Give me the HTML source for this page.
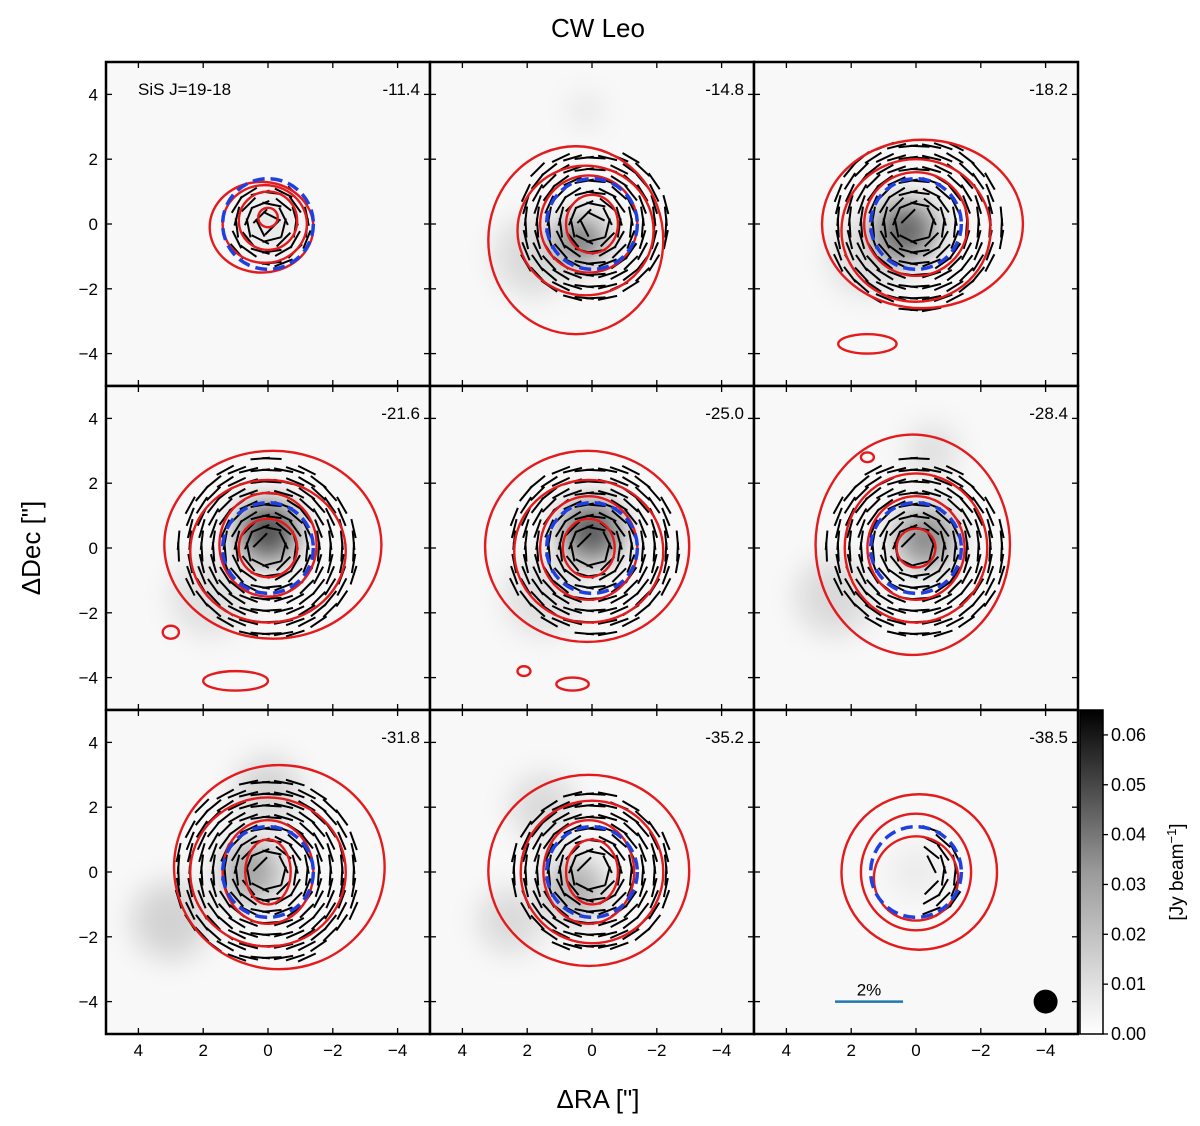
<!DOCTYPE html>
<html><head><meta charset="utf-8">
<style>
html,body{margin:0;padding:0;background:#fff;}
svg{display:block;font-family:"Liberation Sans","DejaVu Sans",sans-serif;}
</style></head>
<body>
<svg id="fig" width="1200" height="1126" viewBox="0 0 1200 1126" xmlns="http://www.w3.org/2000/svg">
<defs>
<filter id="blur" x="-50%" y="-50%" width="200%" height="200%"><feGaussianBlur stdDeviation="14"/></filter>
<linearGradient id="cbgrad" x1="0" y1="1" x2="0" y2="0">
<stop offset="0" stop-color="#ffffff"/><stop offset="0.5" stop-color="#9a9a9a"/><stop offset="1" stop-color="#000000"/></linearGradient>
</defs>
<text x="598" y="37" font-size="26" text-anchor="middle">CW Leo</text>
<text x="598" y="1108" font-size="26" text-anchor="middle">ΔRA ["]</text>
<text transform="translate(40,548) rotate(-90)" font-size="26" text-anchor="middle">ΔDec ["]</text>
<g id="panels"></g>
<g id="cbar"></g>
</svg>
<script>
const velocities = ["-11.4","-14.8","-18.2","-21.6","-25.0","-28.4","-31.8","-35.2","-38.5"];
const ticks = [4,2,0,-2,-4];
// contours: [cx, cy, rx, ry] in arcsec
const contours = [
 [[0.2,-0.1,1.6,1.4],[0.1,0,1.3,1.2],[0,0.1,0.9,0.9],[0,0.2,0.3,0.3]],
 [[0.5,-0.5,2.7,2.9],[0.2,-0.2,2.1,2.0],[0.1,0,1.5,1.5],[0,0,0.8,0.9]],
 [[-0.2,0,3.1,2.6],[0,-0.2,2.3,2.2],[0,0,1.6,1.6],[1.5,-3.7,0.9,0.3]],
 [[-0.15,0.1,3.35,2.9],[0,-0.1,2.4,2.2],[0,0.1,1.5,1.6],[0,0,0.9,0.9],[3,-2.6,0.25,0.2],[1,-4.1,1,0.3]],
 [[0.15,0.05,3.15,2.95],[0.1,-0.1,2.3,2.2],[0.1,0,1.5,1.6],[0.1,0,0.8,0.9],[2.1,-3.8,0.2,0.15],[0.6,-4.2,0.5,0.2]],
 [[0.1,0.1,3.0,3.4],[0,0,2.2,2.3],[0,0,1.5,1.6],[0,0,0.6,0.6],[1.5,2.8,0.2,0.15]],
 [[-0.35,0.15,3.25,3.15],[0,0,2.4,2.3],[0,0,1.4,1.6],[0,0,0.7,1.0]],
 [[0.1,0.05,3.1,2.95],[0,0,2.2,2.2],[0.1,0,1.4,1.6],[0,0,0.8,1.0]],
 [[-0.1,0,2.4,2.4],[0,0,1.7,1.8],[0,-0.2,1.3,1.3]]
];
// polarization vector annulus [rmin, rmax]
const vecRegion = [[0,1.3],[0.2,2.4],[0.3,2.7],[0.3,2.8],[0.3,2.7],[0.3,2.8],[0.3,2.9],[0.3,2.5],[0.5,1.5]];
// gray emission blobs [x, y, radius, darkness]
const blobs = [
 [[0,0,0.8,0.08]],
 [[0.3,-0.5,0.7,0.55],[1.8,-1,1.2,0.12],[0.2,3.5,0.5,0.08]],
 [[0.3,-0.2,0.9,0.6],[1.5,-1,1.2,0.1]],
 [[0,0.5,0.9,0.7],[1.8,-1.5,1.2,0.1]],
 [[0,0.5,0.9,0.65],[1.5,-1.5,1.2,0.1]],
 [[-0.3,0.3,0.9,0.45],[2.5,-1.5,1.2,0.12],[-0.5,3,0.8,0.1]],
 [[0.5,0,0.9,0.35],[3,-1.5,1.2,0.15],[0,2.5,1.0,0.15]],
 [[0.5,-0.5,0.9,0.3],[1.5,2,1.0,0.12],[2.5,-1.5,1.0,0.12]],
 [[0,0,0.8,0.05]]
];
const NS="http://www.w3.org/2000/svg";
const root=document.getElementById('panels');
const PW=324, X0=106, Y0=62, S=32.4;
function mk(tag,attrs,parent){const e=document.createElementNS(NS,tag);for(const k in attrs)e.setAttribute(k,attrs[k]);parent.appendChild(e);return e;}
for(let i=0;i<9;i++){
 const col=i%3,row=Math.floor(i/3);
 const px=X0+col*PW, py=Y0+row*PW;
 const cx=px+PW/2, cy=py+PW/2;
 const sx=v=>cx-v*S, sy=v=>cy-v*S;
 const g=mk('g',{},root);
 
 
 const clipId='clip'+i;
 const cp=mk('clipPath',{id:clipId},g);mk('rect',{x:px,y:py,width:PW,height:PW},cp);
 const inner=mk('g',{'clip-path':'url(#'+clipId+')'},g);
 mk('rect',{x:px,y:py,width:PW,height:PW,fill:'#f8f8f8'},inner);
 const bg=mk('g',{filter:'url(#blur)'},inner);
 blobs[i].forEach(b=>{const c=mk('circle',{cx:sx(b[0]),cy:sy(b[1]),r:b[2]*S,fill:'#000','fill-opacity':b[3]},bg);
  });
 const vr=vecRegion[i];const vg=mk('g',{stroke:'#000','stroke-width':2},inner);
 for(let yy=-3;yy<=3.01;yy+=0.36){for(let xx=-3;xx<=3.01;xx+=0.36){
  const r=Math.hypot(xx,yy); if(r<vr[0]||r>vr[1])continue;
  if(i===8&&xx>-0.2)continue;
  let ang=Math.atan2(yy,xx)+Math.PI/2; const L=0.3;
  const dx=Math.cos(ang)*L,dy=Math.sin(ang)*L;
  const l=mk('line',{x1:sx(xx-dx),y1:sy(yy-dy),x2:sx(xx+dx),y2:sy(yy+dy)},vg);
  
 }}
 contours[i].forEach(c=>{const e=mk('ellipse',{cx:sx(c[0]),cy:sy(c[1]),rx:c[2]*S,ry:c[3]*S,fill:'none',stroke:'#e41a1c','stroke-width':2.4},inner);
  });
 const dc=mk('circle',{cx:sx(0),cy:sy(0),r:1.4*S,fill:'none',stroke:'#1f3fe0','stroke-width':3.5,'stroke-dasharray':'12,6'},inner);
 
 const fr=mk('rect',{x:px,y:py,width:PW,height:PW,fill:'none',stroke:'#000','stroke-width':2.5},g);
 
 const tg=mk('g',{stroke:'#000','stroke-width':1.3},g);
 ticks.forEach(t=>{
  mk('line',{x1:sx(t),y1:py+PW,x2:sx(t),y2:py+PW-6},tg);mk('line',{x1:sx(t),y1:py,x2:sx(t),y2:py+6},tg);
  mk('line',{x1:px,y1:sy(t),x2:px+6,y2:sy(t)},tg);mk('line',{x1:px+PW,y1:sy(t),x2:px+PW-6,y2:sy(t)},tg);
  const lab=String(t).replace('-','−');
  if(row===2){const tx=mk('text',{x:sx(t),y:py+PW+22,'font-size':17,'text-anchor':'middle'},g);tx.textContent=lab;
   }
  if(col===0){const ty=mk('text',{x:px-8,y:sy(t)+6,'font-size':17,'text-anchor':'end'},g);ty.textContent=lab;
   }
 });
 const vt=mk('text',{x:px+PW-10,y:py+33,'font-size':17,'text-anchor':'end'},g);vt.textContent=velocities[i];
 
 if(i===0){const lt=mk('text',{x:px+32,y:py+33,'font-size':17},g);lt.textContent='SiS J=19-18';
  }
 if(i===8){
  const bm=mk('circle',{cx:sx(-4),cy:sy(-4),r:12,fill:'#000'},g);
  const sb=mk('line',{x1:sx(2.5),y1:sy(-4),x2:sx(0.4),y2:sy(-4),stroke:'#1f77b4','stroke-width':2.5},g);
  
  const st=mk('text',{x:sx(1.45),y:sy(-4)-6,'font-size':17,'text-anchor':'middle'},g);st.textContent='2%';
  
 }
}
const cbTicks=[0,0.01,0.02,0.03,0.04,0.05,0.06];
const cbMax=0.065;
const cb=document.getElementById('cbar');
const cbx=1080,cby=710,cbw=23,cbh=324;
const cr=mk('rect',{x:cbx,y:cby,width:cbw,height:cbh,fill:'url(#cbgrad)',stroke:'#000','stroke-width':1.5},cb);

cbTicks.forEach(v=>{const y=cby+cbh-v/cbMax*cbh;
 mk('line',{x1:cbx+cbw,y1:y,x2:cbx+cbw+5,y2:y,stroke:'#000','stroke-width':1.3},cb);
 const t=mk('text',{x:cbx+cbw+8,y:y+6,'font-size':18},cb);t.textContent=v.toFixed(2);
 });
const ct=mk('text',{transform:'translate(1183,872) rotate(-90)','font-size':19,'text-anchor':'middle'},cb);
ct.innerHTML='[Jy beam<tspan dy="-7" font-size="13">−1</tspan><tspan dy="7">]</tspan>';

</script>
</body></html>
